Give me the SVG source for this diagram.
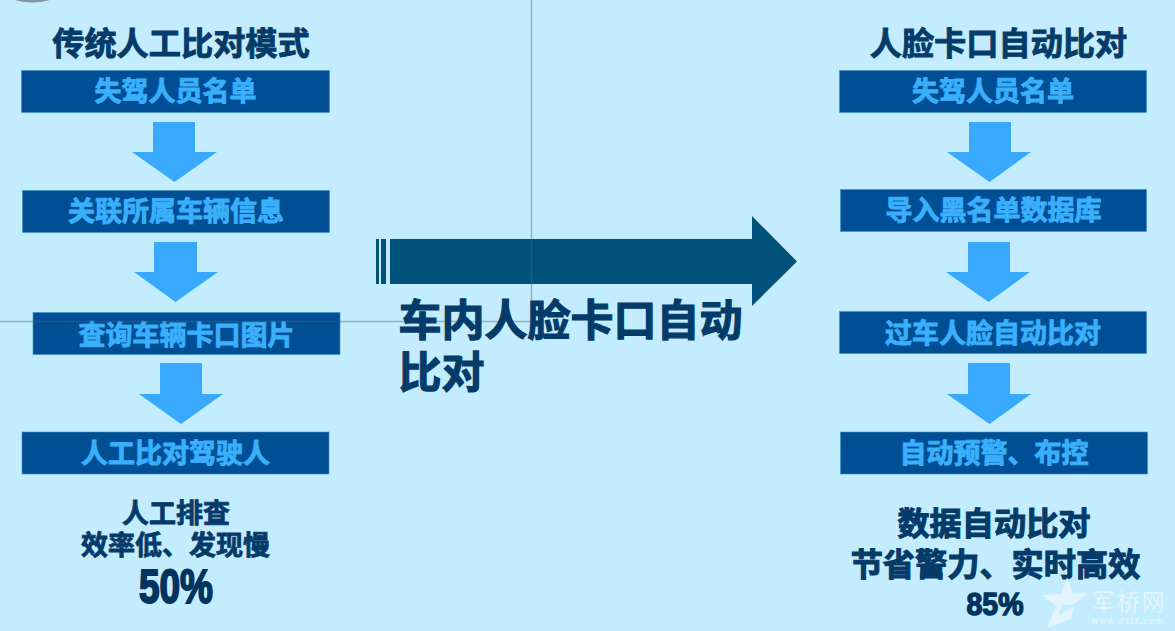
<svg xmlns="http://www.w3.org/2000/svg" width="1175" height="631" viewBox="0 0 1175 631">
<style>
text{font-family:"Noto Sans CJK SC","Noto Sans",sans-serif;font-weight:700;text-anchor:middle}
.box{fill:#004f94;stroke:#3f8fc4;stroke-width:.6}
.bt{fill:#3ab0fd;font-size:27px;stroke:#3ab0fd;stroke-width:.9}
.dn{fill:#38a9fd}
.hd{fill:#053b69;font-size:32.200px;stroke:#053b69;stroke-width:.9}
.sm{fill:#053b69;font-size:27px;stroke:#053b69;stroke-width:.8}
.rs{fill:#053b69;font-size:32.200px;stroke:#053b69;stroke-width:1.100}
.big{fill:#02345f;font-family:"Liberation Sans",sans-serif;font-weight:700}
.grid{stroke:#4f626c;stroke-opacity:.42;stroke-width:1.500;fill:none}
</style>
<rect width="1175" height="631" fill="#c3edff"/>
<path d="M15 0Q32 5 50 0Z" fill="#7f97a3"/>
<g id="connectors">
<path class="dn" d="M153 122H195V152H217L174.500 182L132 152H153Z"/>
<path class="dn" d="M154 242H197V272H218L175.500 302L134 272H154Z"/>
<path class="dn" d="M160 363H202V394H223L181 424L139 394H160Z"/>
<path class="dn" d="M969 122H1011V152H1031L989.500 182L947 152H969Z"/>
<path class="dn" d="M968 242H1010V272H1030L988.500 302L946 272H968Z"/>
<path class="dn" d="M968 363H1010V394H1031L989.500 424L947 394H968Z"/>
</g>
<g id="n1"><rect class="box" x="21.500" y="70.500" width="308" height="42"/><text class="bt" x="175.500" y="101">失驾人员名单</text></g>
<g id="n2"><rect class="box" x="22.500" y="190.500" width="307" height="42"/><text class="bt" x="176" y="221">关联所属车辆信息</text></g>
<g id="n3"><rect class="box" x="33" y="312.500" width="307" height="42"/><text class="bt" x="186.500" y="345">查询车辆卡口图片</text></g>
<g id="n4"><rect class="box" x="22" y="432" width="307" height="42"/><text class="bt" x="175.500" y="463">人工比对驾驶人</text></g>
<g id="n5"><rect class="box" x="839.500" y="70.500" width="307" height="42"/><text class="bt" x="993" y="101">失驾人员名单</text></g>
<g id="n6"><rect class="box" x="840.500" y="189.500" width="306" height="42"/><text class="bt" x="993.500" y="220">导入黑名单数据库</text></g>
<g id="n7"><rect class="box" x="839.500" y="311.500" width="307" height="42"/><text class="bt" x="993" y="343">过车人脸自动比对</text></g>
<g id="n8"><rect class="box" x="840.500" y="432" width="307" height="42"/><text class="bt" x="994" y="463">自动预警、布控</text></g>
<g id="titles">
<text class="hd" x="181" y="55">传统人工比对模式</text>
<text class="hd" x="998.500" y="55">人脸卡口自动比对</text>
</g>
<g id="bigarrow">
<path fill="#01527b" d="M376 239H379V284H376ZM381 239H386V284H381ZM390 239H752V216L797 261.500L752 306V284H390Z"/>
</g>
<g id="guides">
<path class="grid" d="M0 321.500H531M531.500 0V322"/>
</g>
<g id="midlabel">
<text style="text-anchor:start;font-size:43px;fill:#053b69;stroke:#053b69;stroke-width:1.200"><tspan x="398.500" y="336">车内人脸卡口自动</tspan><tspan x="398.500" y="388">比对</tspan></text>
</g>
<g id="leftsummary">
<text class="sm"><tspan x="176" y="523">人工排查</tspan><tspan x="175.500" y="555">效率低、发现慢</tspan></text>
<text class="big" x="176" y="603" font-size="48" stroke="#02345f" stroke-width="2" textLength="74" lengthAdjust="spacingAndGlyphs">50%</text>
</g>
<g id="rightsummary">
<text class="rs"><tspan x="994" y="535">数据自动比对</tspan><tspan x="995.500" y="576">节省警力、实时高效</tspan></text>
<text class="big" x="995" y="615" font-size="32" stroke="#02345f" stroke-width="1.500" textLength="57" lengthAdjust="spacingAndGlyphs">85%</text>
</g>
<g id="watermark" fill="#e8f6fc" fill-opacity=".85">
<path d="M1067 577L1073 594L1088 592L1073 605L1062 604L1059 615L1074 606L1071 619L1047 628L1056 606L1042 595L1061 594Z"/>
<text x="1129" y="610" font-size="23" style="letter-spacing:2px;font-weight:400">军桥网</text>
<text x="1128" y="624" font-size="8.500" font-style="italic" style="letter-spacing:1.200px;font-family:'Liberation Sans',sans-serif">www.81IT.com</text>
</g>
</svg>
